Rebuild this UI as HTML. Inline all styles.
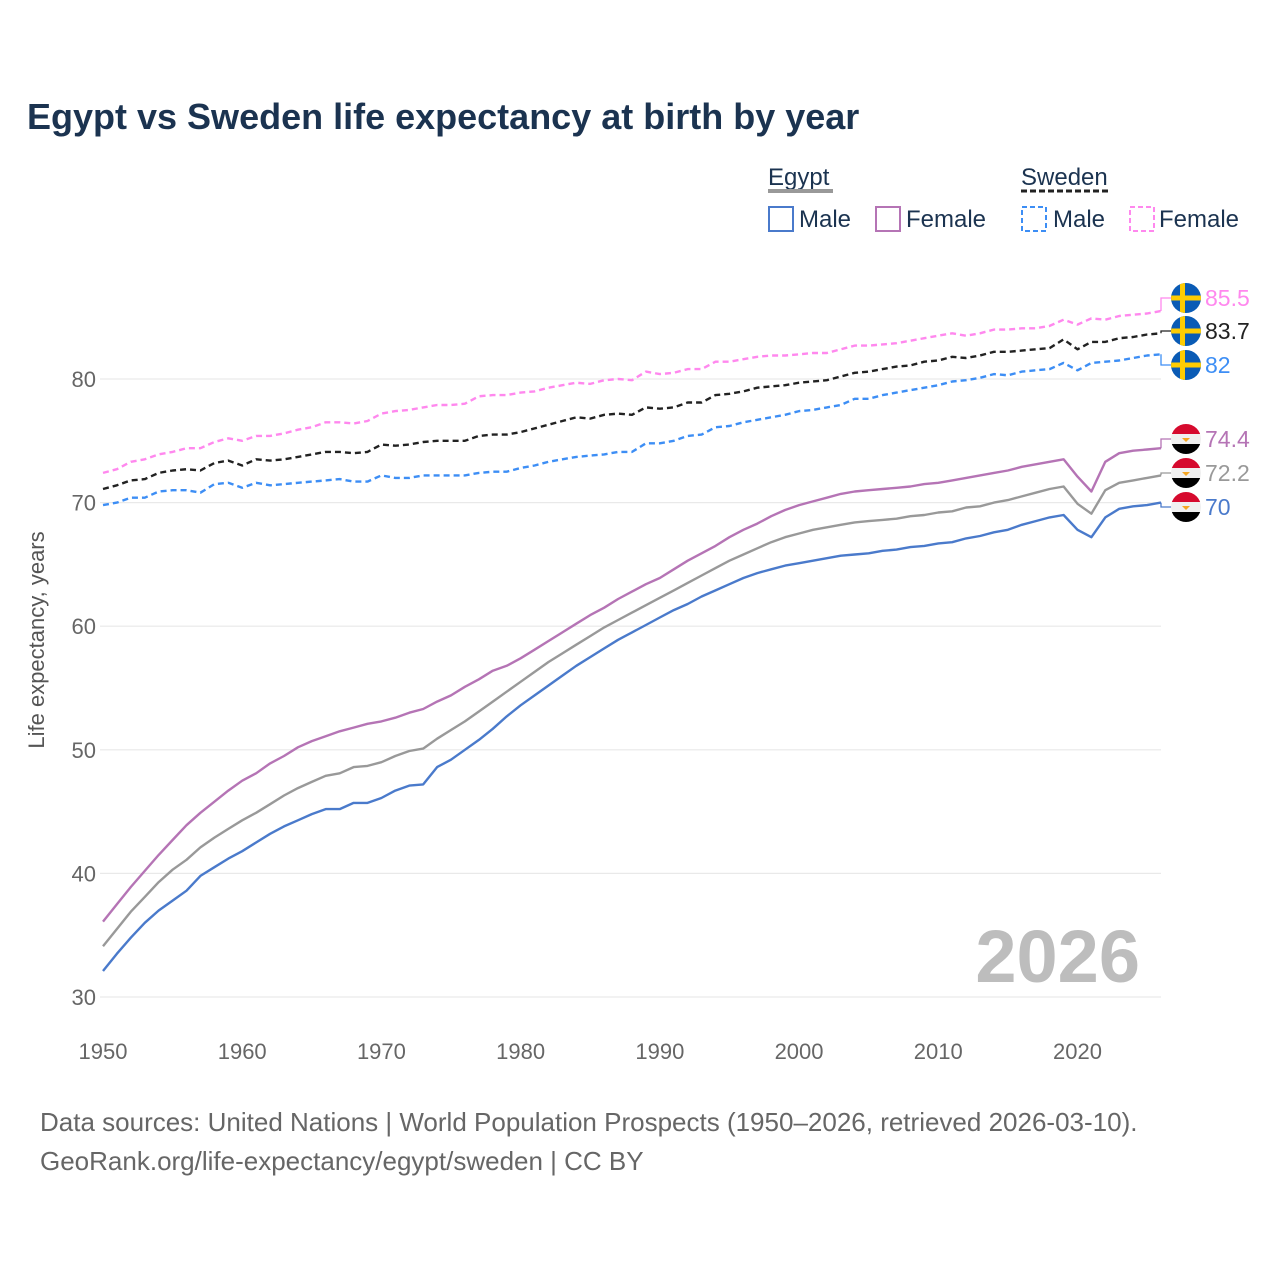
<!DOCTYPE html>
<html><head><meta charset="utf-8"><style>
body{margin:0;background:#fff;}
svg text{font-family:"Liberation Sans",sans-serif;}
</style></head><body>
<svg id="chart" width="1280" height="1280" viewBox="0 0 1280 1280" xmlns="http://www.w3.org/2000/svg">
<rect width="1280" height="1280" fill="#fff"/>
<text x="27" y="129" font-size="36" font-weight="bold" fill="#1b3350">Egypt vs Sweden life expectancy at birth by year</text>
<g font-size="24" fill="#1b3350">
<text x="768" y="185" fill="#1b3350">Egypt</text>
<line x1="768" y1="191" x2="833" y2="191" stroke="#999" stroke-width="4"/>
<text x="1021" y="185" fill="#1b3350">Sweden</text>
<line x1="1021" y1="191" x2="1111" y2="191" stroke="#222" stroke-width="3" stroke-dasharray="6,3"/>
<rect x="769" y="207" width="24" height="24" fill="none" stroke="#4a7acb" stroke-width="2"/>
<text x="799" y="227">Male</text>
<rect x="876" y="207" width="24" height="24" fill="none" stroke="#b574b5" stroke-width="2"/>
<text x="906" y="227">Female</text>
<rect x="1022" y="207" width="24" height="24" fill="none" stroke="#3d8ef5" stroke-width="2" stroke-dasharray="5,3"/>
<text x="1053" y="227">Male</text>
<rect x="1130" y="207" width="24" height="24" fill="none" stroke="#ff88ee" stroke-width="2" stroke-dasharray="5,3"/>
<text x="1159" y="227">Female</text>
</g>
<g id="grid"></g>
<g id="yticks"></g>
<g id="xticks"></g>
<text transform="translate(50,640) rotate(-90)" text-anchor="middle" font-size="22" fill="#555" x="0" y="-6">Life expectancy, years</text>
<text x="1140" y="982" text-anchor="end" font-size="74" font-weight="bold" fill="#bdbdbd">2026</text>
<g id="series"></g>
<g id="endlabels"></g>
<text x="40" y="1131" font-size="26" fill="#666">Data sources: United Nations | World Population Prospects (1950–2026, retrieved 2026-03-10).</text>
<text x="40" y="1170" font-size="26" fill="#666">GeoRank.org/life-expectancy/egypt/sweden | CC BY</text>
</svg>
<script>
const startYear = 1950;
const endYear = 2026;
const yTicks = [30,40,50,60,70,80];
const xTicks = [1950,1960,1970,1980,1990,2000,2010,2020];
const egyptMale = [32.1,33.5,34.8,36.0,37.0,37.8,38.6,39.8,40.5,41.2,
41.8,42.5,43.2,43.8,44.3,44.8,45.2,45.2,45.7,45.7,
46.1,46.7,47.1,47.2,48.6,49.2,50.0,50.8,51.7,52.7,
53.6,54.4,55.2,56.0,56.8,57.5,58.2,58.9,59.5,60.1,
60.7,61.3,61.8,62.4,62.9,63.4,63.9,64.3,64.6,64.9,
65.1,65.3,65.5,65.7,65.8,65.9,66.1,66.2,66.4,66.5,
66.7,66.8,67.1,67.3,67.6,67.8,68.2,68.5,68.8,69.0,
67.8,67.2,68.8,69.5,69.7,69.8,70.0];
const egyptFemale = [36.1,37.5,38.9,40.2,41.5,42.7,43.9,44.9,45.8,46.7,
47.5,48.1,48.9,49.5,50.2,50.7,51.1,51.5,51.8,52.1,
52.3,52.6,53.0,53.3,53.9,54.4,55.1,55.7,56.4,56.8,
57.4,58.1,58.8,59.5,60.2,60.9,61.5,62.2,62.8,63.4,
63.9,64.6,65.3,65.9,66.5,67.2,67.8,68.3,68.9,69.4,
69.8,70.1,70.4,70.7,70.9,71.0,71.1,71.2,71.3,71.5,
71.6,71.8,72.0,72.2,72.4,72.6,72.9,73.1,73.3,73.5,
72.1,70.9,73.3,74.0,74.2,74.3,74.4];
const egyptBoth = [34.1,35.5,36.9,38.1,39.3,40.3,41.1,42.1,42.9,43.6,
44.3,44.9,45.6,46.3,46.9,47.4,47.9,48.1,48.6,48.7,
49.0,49.5,49.9,50.1,50.9,51.6,52.3,53.1,53.9,54.7,
55.5,56.3,57.1,57.8,58.5,59.2,59.9,60.5,61.1,61.7,
62.3,62.9,63.5,64.1,64.7,65.3,65.8,66.3,66.8,67.2,
67.5,67.8,68.0,68.2,68.4,68.5,68.6,68.7,68.9,69.0,
69.2,69.3,69.6,69.7,70.0,70.2,70.5,70.8,71.1,71.3,
69.9,69.1,71.0,71.6,71.8,72.0,72.2];
const swedenFemale = [72.4,72.7,73.3,73.5,73.9,74.1,74.4,74.4,74.9,75.2,
75.0,75.4,75.4,75.6,75.9,76.1,76.5,76.5,76.4,76.6,
77.2,77.4,77.5,77.7,77.9,77.9,78.0,78.6,78.7,78.7,
78.9,79.0,79.3,79.5,79.7,79.6,79.9,80.0,79.9,80.6,
80.4,80.5,80.8,80.8,81.4,81.4,81.6,81.8,81.9,81.9,
82.0,82.1,82.1,82.4,82.7,82.7,82.8,82.9,83.1,83.3,
83.5,83.7,83.5,83.7,84.0,84.0,84.1,84.1,84.3,84.8,
84.4,84.9,84.8,85.1,85.2,85.3,85.5];
const swedenBoth = [71.1,71.4,71.8,71.9,72.4,72.6,72.7,72.6,73.2,73.4,
73.0,73.5,73.4,73.5,73.7,73.9,74.1,74.1,74.0,74.1,
74.7,74.6,74.7,74.9,75.0,75.0,75.0,75.4,75.5,75.5,
75.7,76.0,76.3,76.6,76.9,76.8,77.1,77.2,77.1,77.7,
77.6,77.7,78.1,78.1,78.7,78.8,79.0,79.3,79.4,79.5,
79.7,79.8,79.9,80.2,80.5,80.6,80.8,81.0,81.1,81.4,
81.5,81.8,81.7,81.9,82.2,82.2,82.3,82.4,82.5,83.2,
82.4,83.0,83.0,83.3,83.4,83.6,83.7];
const swedenMale = [69.8,70.0,70.4,70.4,70.9,71.0,71.0,70.8,71.5,71.6,
71.2,71.6,71.4,71.5,71.6,71.7,71.8,71.9,71.7,71.7,
72.2,72.0,72.0,72.2,72.2,72.2,72.2,72.4,72.5,72.5,
72.8,73.0,73.3,73.5,73.7,73.8,73.9,74.1,74.1,74.8,
74.8,75.0,75.4,75.5,76.1,76.2,76.5,76.7,76.9,77.1,
77.4,77.5,77.7,77.9,78.4,78.4,78.7,78.9,79.1,79.3,
79.5,79.8,79.9,80.1,80.4,80.3,80.6,80.7,80.8,81.3,
80.7,81.3,81.4,81.5,81.7,81.9,82.0];
const endValueLabels = ["85.5","83.7","82","74.4","72.2","70"];

const NS = "http://www.w3.org/2000/svg";
const X0 = 103, X1 = 1161, Y80 = 379, PXU = 12.36;
function xs(yr){ return X0 + (yr - startYear) * (X1 - X0) / (endYear - startYear); }
function ys(v){ return Y80 + (80 - v) * PXU; }
function mk(tag, attrs, parent){ const e = document.createElementNS(NS, tag); for (const k in attrs) e.setAttribute(k, attrs[k]); parent.appendChild(e); return e; }

const grid = document.getElementById('grid');
const yt = document.getElementById('yticks');
yTicks.forEach(v => {
  const l = mk('line', {x1: 100, x2: X1, y1: ys(v), y2: ys(v), stroke: '#e9e9e9', 'stroke-width': 1.2}, grid);
  
  
  const t = mk('text', {x: 96, y: ys(v) + 8, 'text-anchor': 'end', 'font-size': 22, fill: '#666'}, yt);
  
  
  t.textContent = v;
});
const xt = document.getElementById('xticks');
xTicks.forEach(yr => {
  const t = mk('text', {x: xs(yr), y: 1059, 'text-anchor': 'middle', 'font-size': 22, fill: '#666'}, xt);
  
  
  t.textContent = yr;
});

const seriesList = [
  {name: 'egypt-male', data: egyptMale, color: '#4a7acb', dash: null, lab: 5, flag: 'eg'},
  {name: 'egypt-both', data: egyptBoth, color: '#999999', dash: null, lab: 4, flag: 'eg'},
  {name: 'egypt-female', data: egyptFemale, color: '#b574b5', dash: null, lab: 3, flag: 'eg'},
  {name: 'sweden-male', data: swedenMale, color: '#3d8ef5', dash: '6,4', lab: 2, flag: 'se'},
  {name: 'sweden-both', data: swedenBoth, color: '#222222', dash: '6,4', lab: 1, flag: 'se'},
  {name: 'sweden-female', data: swedenFemale, color: '#ff88ee', dash: '6,4', lab: 0, flag: 'se'}
];
const labelY = [298, 331, 365, 439, 473, 507];
const sg = document.getElementById('series');
const eg = document.getElementById('endlabels');
seriesList.forEach(s => {
  const pts = s.data.map((v, i) => xs(startYear + i).toFixed(1) + ',' + ys(v).toFixed(1)).join(' ');
  const attrs = {points: pts, fill: 'none', stroke: s.color, 'stroke-width': 2.4, 'stroke-linejoin': 'round'};
  if (s.dash) attrs['stroke-dasharray'] = s.dash;
  const p = mk('polyline', attrs, sg);
  
  
  const last = s.data[s.data.length - 1];
  const ly = labelY[s.lab];
  const c = mk('polyline', {points: X1 + ',' + ys(last) + ' ' + X1 + ',' + ly + ' ' + 1172 + ',' + ly, fill: 'none', stroke: s.color, 'stroke-width': 1.3}, eg);
  
  
  const g = mk('g', {}, eg);
  
  
  const cx = 1186, r = 15;
  const cid = 'clip-' + s.name;
  const cp = mk('clipPath', {id: cid}, g);
  mk('circle', {cx: cx, cy: ly, r: r}, cp);
  const fg = mk('g', {'clip-path': 'url(#' + cid + ')'}, g);
  if (s.flag === 'se') {
    mk('rect', {x: cx - r, y: ly - r, width: 2 * r, height: 2 * r, fill: '#0a5bb5'}, fg);
    mk('rect', {x: cx - r, y: ly - 2.5, width: 2 * r, height: 5, fill: '#fecc02'}, fg);
    mk('rect', {x: cx - 6, y: ly - r, width: 5, height: 2 * r, fill: '#fecc02'}, fg);
  } else {
    mk('rect', {x: cx - r, y: ly - r, width: 2 * r, height: 10, fill: '#d60a2e'}, fg);
    mk('rect', {x: cx - r, y: ly - 5, width: 2 * r, height: 10, fill: '#f0f0f0'}, fg);
    mk('rect', {x: cx - r, y: ly + 5, width: 2 * r, height: 10, fill: '#000'}, fg);
    mk('path', {d: 'M' + (cx - 4) + ' ' + (ly - 1) + ' L' + (cx + 4) + ' ' + (ly - 1) + ' L' + cx + ' ' + (ly + 3) + 'Z', fill: '#f5a623'}, fg);
  }
  const t = mk('text', {x: 1205, y: ly + 8, 'font-size': 23, fill: s.color}, eg);
  
  
  t.textContent = endValueLabels[s.lab];
});
</script>
</body></html>
